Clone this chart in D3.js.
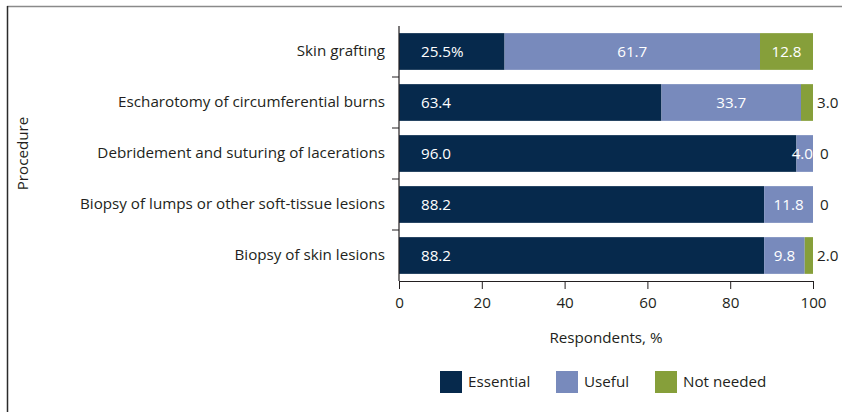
<!DOCTYPE html>
<html>
<head>
<meta charset="utf-8">
<script src="https://cdn.jsdelivr.net/npm/d3@7"></script>
<style>
  html, body { margin: 0; padding: 0; background: #fff; }
  svg text { font-family: "Open Sans", "Noto Sans", sans-serif; fill: #231f20; }
</style>
</head>
<body>
<div id="chart"></div>
<script>
// data
const procedures = [
  'Skin grafting',
  'Escharotomy of circumferential burns',
  'Debridement and suturing of lacerations',
  'Biopsy of lumps or other soft-tissue lesions',
  'Biopsy of skin lesions'
];
const essential = [25.5, 63.4, 96.0, 88.2, 88.2];
const useful    = [61.7, 33.7, 4.0, 11.8, 9.8];
const notNeeded = [12.8, 3.0, 0, 0, 2.0];
const seriesNames = ['Essential', 'Useful', 'Not needed'];
const xTicks = [0, 20, 40, 60, 80, 100];

const width = 842, height = 412;
const margin = {top: 26, right: 29, bottom: 131, left: 399};
const colors = ['#06294c', '#788abc', '#869f3a'];
const fontSize = 15.2;

const svg = d3.select('#chart').append('svg')
  .attr('width', width).attr('height', height);

// partial frame: top + left edges
svg.append('line').attr('x1', 7).attr('x2', width).attr('y1', 6.5).attr('y2', 6.5)
  .attr('stroke', '#8a8a8a').attr('stroke-width', 1.5);
svg.append('line').attr('x1', 7.5).attr('x2', 7.5).attr('y1', 6).attr('y2', height)
  .attr('stroke', '#2b2b2b').attr('stroke-width', 1.5);

const x = d3.scaleLinear().domain([0, 100]).range([margin.left, width - margin.right]);
const y = d3.scaleBand().domain(procedures)
  .range([margin.top, height - margin.bottom]).paddingInner(0.28).paddingOuter(0.14);

const rows = procedures.map((p, i) => ({
  name: p,
  values: [essential[i], useful[i], notNeeded[i]]
}));

// stack
rows.forEach(r => {
  let acc = 0;
  r.segs = r.values.map((v, k) => {
    const s = {k, v, x0: acc, x1: acc + v, name: r.name, first: k === 0 && r.name === procedures[0]};
    acc += v;
    return s;
  });
});

const g = svg.append('g');

const rowG = g.selectAll('g.row').data(rows).join('g')
  .attr('class', 'row')
  .attr('transform', d => `translate(0,${y(d.name)})`);

rowG.selectAll('rect').data(d => d.segs.filter(s => s.v > 0)).join('rect')
  .attr('x', s => x(s.x0))
  .attr('width', s => x(Math.min(100, s.x1)) - x(s.x0))
  .attr('y', 0)
  .attr('height', y.bandwidth())
  .attr('fill', s => colors[s.k]);

// value labels
const fmt = d3.format('.1f');
rowG.each(function(r) {
  const sel = d3.select(this);
  const cy = y.bandwidth() / 2;
  r.segs.forEach(s => {
    const txt = s.v === 0 ? '0' : fmt(s.v) + (s.first ? '%' : '');
    const t = sel.append('text')
      .attr('y', cy)
      .attr('dy', '0.35em')
      .style('font-size', fontSize + 'px')
      .text(txt);
    const segW = x(s.x1) - x(s.x0);
    if (s.k === 0) {
      t.attr('x', x(s.x0) + 22).style('fill', '#fff');
    } else if (s.k === 1) {
      if (segW < 30) {
        t.attr('x', x(Math.min(100, s.x1))).attr('text-anchor', 'end').style('fill', '#fff');
      } else {
        t.attr('x', (x(s.x0) + x(Math.min(100, s.x1))) / 2).attr('text-anchor', 'middle').style('fill', '#fff');
      }
    } else {
      if (segW < 30) {
        t.attr('x', x(100) + (s.v === 0 ? 7 : 4));
      } else {
        t.attr('x', (x(s.x0) + x(100)) / 2).attr('text-anchor', 'middle').style('fill', '#fff');
      }
    }
  });
});

// axes
const xAxis = svg.append('g')
  .attr('transform', `translate(0,${height - margin.bottom})`)
  .call(d3.axisBottom(x).tickValues(xTicks).tickSize(8).tickPadding(8).tickSizeOuter(0));
const yAxis = svg.append('g')
  .attr('transform', `translate(${margin.left},0)`)
  .call(d3.axisLeft(y).tickSize(0).tickPadding(14));

// y ticks between bands
const step = y.step();
const bounds = procedures.slice(1).map(p => y(p) - y.paddingInner() * step / 2);
yAxis.selectAll('line.sep').data(bounds).join('line')
  .attr('class', 'sep')
  .attr('x1', -7).attr('x2', 0)
  .attr('y1', d => d).attr('y2', d => d)
  .attr('stroke', '#231f20');

[xAxis, yAxis].forEach(a => {
  a.select('.domain').attr('stroke', '#231f20').attr('stroke-width', 1.2);
  a.selectAll('.tick line').attr('stroke', '#231f20');
  a.selectAll('text').style('font-size', fontSize + 'px').attr('fill', '#231f20')
    .style('font-family', '"Open Sans", "Noto Sans", sans-serif');
});
yAxis.select('.domain').attr('d', `M0,${margin.top}V${height - margin.bottom}`);

// axis titles
svg.append('text')
  .attr('x', (x(0) + x(100)) / 2)
  .attr('y', 343)
  .attr('text-anchor', 'middle')
  .style('font-size', fontSize + 'px')
  .text('Respondents, %');

svg.append('text')
  .attr('transform', `translate(28,${(margin.top + height - margin.bottom) / 2}) rotate(-90)`)
  .attr('text-anchor', 'middle')
  .style('font-size', fontSize + 'px')
  .text('Procedure');

// legend
const legendX = [440, 556, 655];
const legend = svg.append('g').selectAll('g').data(seriesNames).join('g')
  .attr('transform', (d, i) => `translate(${legendX[i]},371)`);
legend.append('rect').attr('width', 22).attr('height', 22).attr('fill', (d, i) => colors[i]);
legend.append('text').attr('x', 28).attr('y', 11).attr('dy', '0.35em')
  .style('font-size', fontSize + 'px').text(d => d);
</script>
</body>
</html>
